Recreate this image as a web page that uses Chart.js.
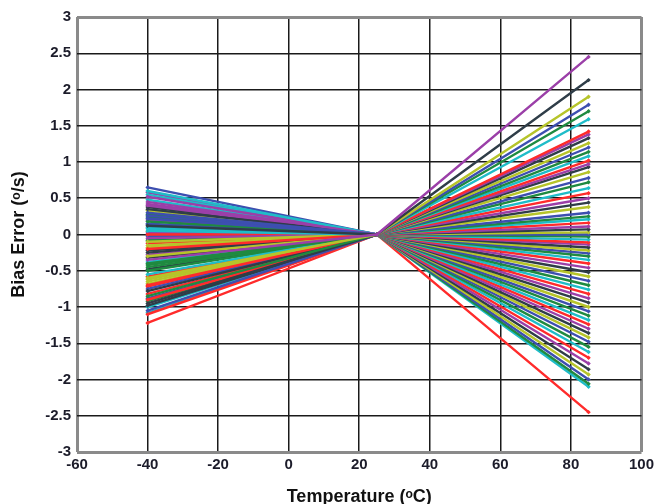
<!DOCTYPE html>
<html>
<head>
<meta charset="utf-8">
<script src="https://cdn.jsdelivr.net/npm/chart.js@4.4.1/dist/chart.umd.min.js"></script>
<style>
  html, body { margin: 0; padding: 0; background: #fff; }
  #wrap { width: 658px; height: 504px; }
</style>
</head>
<body>
<div id="wrap"><canvas id="chart"></canvas></div>
<script>
// temperatures where each part was measured (deg C)
const temps = [-40, 25, 85];

// bias error at -40 C, one value per part (deg/s)
const errCold = [
  -0.35, 0.12, -0.60, 0.30, -0.85, 0.05, -0.20, 0.45, -0.95, -0.10,
  0.22, -0.45, 0.60, -0.70, -0.05, 0.35, -0.30, -1.05, 0.18, -0.55,
  0.00, 0.52, -0.78, -0.15, 0.26, -0.40, 0.08, -0.90, 0.40, -0.25,
  -0.65, 0.15, -0.50, 0.55, -1.10, 0.02, -0.32, 0.33, -0.75, -0.08,
  0.48, -0.58, 0.20, -0.98, -0.18, 0.65, -0.42, 0.10, -0.82, -0.28,
  0.38, -0.68, -0.02, 0.28, -1.00, -0.12, 0.58, -0.48, 0.04, -0.88,
  0.24, -0.38, -0.72, 0.42, -0.22, -0.62, 0.14, -0.92, -1.08, -1.22
];

// bias error at 25 C (nulled at room temperature)
const errRoom = 0;

// bias error at 85 C, one value per part (deg/s)
const errHot = [
  2.45, 2.13, 1.90, 1.79, 1.70, 1.59, 1.42, 1.38, 1.33, 1.26,
  1.20, 1.14, 1.08, 1.02, 0.97, 0.93, 0.86, 0.78, 0.72, 0.64,
  0.57, 0.50, 0.44, 0.38, 0.30, 0.25, 0.21, 0.16, 0.11, 0.07,
  0.03, 0.00, -0.03, -0.07, -0.11, -0.14, -0.18, -0.22, -0.26, -0.30,
  -0.35, -0.40, -0.46, -0.52, -0.58, -0.64, -0.70, -0.76, -0.82, -0.88,
  -0.94, -1.00, -1.06, -1.12, -1.18, -1.24, -1.30, -1.36, -1.42, -1.48,
  -1.55, -1.62, -1.70, -1.78, -1.86, -1.93, -2.00, -2.06, -2.10, -2.45
];

const colors = ["#9b3fa8", "#2f3d48", "#b6c42a", "#3d4fb0", "#1f8a40", "#1fbcc8", "#ff2b2b"];

const datasets = errCold.map((c, i) => {
  const col = colors[i % colors.length];
  return {
    data: [
      { x: temps[0], y: c },
      { x: temps[1], y: errRoom },
      { x: temps[2], y: errHot[i] }
    ],
    borderColor: col,
    backgroundColor: col,
    borderWidth: 2.4,
    pointStyle: "rectRot",
    pointRadius: 2.2,
    pointBorderWidth: 0,
    tension: 0
  };
});

const edge = (ctx, a, b) => {
  const v = ctx.tick && ctx.tick.value;
  return v === ctx.scale.min || v === ctx.scale.max ? a : b;
};

const tickFont = { family: "Liberation Sans", size: 15, weight: "bold" };
const titleFont = { family: "Liberation Sans", size: 18, weight: "bold" };

new Chart(document.getElementById("chart"), {
  type: "line",
  data: { datasets },
  options: {
    responsive: true,
    maintainAspectRatio: false,
    animation: false,
    layout: { padding: { top: 17, right: 16, left: 0, bottom: 0 } },
    plugins: { legend: { display: false }, tooltip: { enabled: false } },
    scales: {
      x: {
        type: "linear",
        min: -60, max: 100,
        border: { display: false },
        grid: {
          drawTicks: false,
          color: ctx => edge(ctx, "#8a8a8a", "#1a1a1a"),
          lineWidth: ctx => edge(ctx, 3, 1.5)
        },
        ticks: { stepSize: 20, padding: 4, color: "#1c1c2a", font: tickFont },
        title: {
          display: true,
          text: "Temperature (\u1D52C)",
          color: "#111",
          font: titleFont,
          padding: { top: 8, bottom: -4 }
        },
        afterFit: s => { s.height = 52; }
      },
      y: {
        min: -3, max: 3,
        border: { display: false },
        grid: {
          drawTicks: false,
          color: ctx => edge(ctx, "#8a8a8a", "#1a1a1a"),
          lineWidth: ctx => edge(ctx, 3, 1.5)
        },
        ticks: { stepSize: 0.5, padding: 6, color: "#1c1c2a", font: tickFont,
          callback: v => String(v) },
        title: {
          display: true,
          text: "Bias Error (\u1D52/s)",
          color: "#111",
          font: titleFont,
          padding: { top: 8, bottom: 0 }
        },
        afterFit: s => { s.width = 77; }
      }
    }
  }
});
</script>
</body>
</html>
